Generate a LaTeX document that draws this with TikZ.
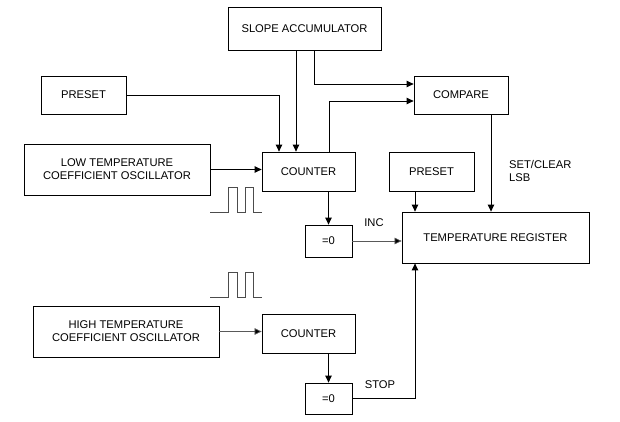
\documentclass[tikz,border=0pt]{standalone}
\usepackage{fontspec}
\setmainfont{Liberation Sans}
\usetikzlibrary{arrows.meta}
\begin{document}
\begin{tikzpicture}[x=1pt,y=-1pt,
  blk/.style={draw=black,line width=0.8pt,inner sep=0pt,align=center,
    font=\fontsize{11.2}{13}\selectfont},
  arr/.style={draw=black,line width=0.9pt,-{Triangle[length=7pt,width=6.5pt]}},
  thinarr/.style={draw=black!65,line width=0.7pt,-{Triangle[length=7pt,width=6.5pt,fill=black]}},
  lbl/.style={font=\fontsize{11.2}{13}\selectfont,inner sep=0pt},
  pulse/.style={draw=black!70,line width=0.8pt}]
\useasboundingbox (0,0) rectangle (620,422);
% blocks
\node[blk,minimum width=153pt,minimum height=43pt] (slope) at (304.5,28.5) {SLOPE ACCUMULATOR};
\node[blk,minimum width=85pt,minimum height=38pt] (preset1) at (83.5,95) {PRESET};
\node[blk,minimum width=94pt,minimum height=38pt] (compare) at (461,95) {COMPARE};
\node[blk,minimum width=186pt,minimum height=51pt] (lowosc) at (117,169.5) {LOW TEMPERATURE\\COEFFICIENT OSCILLATOR};
\node[blk,minimum width=93pt,minimum height=39pt] (counter1) at (308.5,171.5) {COUNTER};
\node[blk,minimum width=85pt,minimum height=39pt] (preset2) at (431.5,171.5) {PRESET};
\node[blk,minimum width=187pt,minimum height=51pt] (temp) at (495.5,237.5) {TEMPERATURE REGISTER};
\node[blk,minimum width=47pt,minimum height=32pt] (eq1) at (328.5,241) {=0};
\node[blk,minimum width=186pt,minimum height=51pt] (highosc) at (126,331.5) {HIGH TEMPERATURE\\COEFFICIENT OSCILLATOR};
\node[blk,minimum width=93pt,minimum height=39pt] (counter2) at (308.5,333.5) {COUNTER};
\node[blk,minimum width=47pt,minimum height=31pt] (eq2) at (328.5,398.5) {=0};
% labels
\node[lbl] (inc) at (374,223) {INC};
\node[lbl] (stop) at (380,385) {STOP};
\node[lbl,anchor=west,align=left] (setclr) at (509,170.5) {SET/CLEAR\\LSB};
% helper x positions
\coordinate (xa) at (279,0);
\coordinate (xb) at (296,0);
\coordinate (xc) at (314,0);
\coordinate (xd) at (329.5,0);
\coordinate (xe) at (491,0);
\coordinate (xf) at (415,0);
\coordinate (ya) at (0,84);
\coordinate (yb) at (0,101);
% connectors
\draw[arr] (preset1.east) -| (counter1.north -| xa);
\draw[arr] (slope.south -| xb) -- (counter1.north -| xb);
\draw[arr] (slope.south -| xc) |- (compare.west |- ya);
\draw[arr] (counter1.north -| xd) |- (compare.west |- yb);
\draw[arr] (lowosc.east) -- (lowosc.east -| counter1.west);
\draw[arr] (compare.south -| xe) -- (temp.north -| xe);
\draw[arr] (preset2.south -| xf) -- (temp.north -| xf);
\draw[arr] (counter1.south -| eq1.north) -- (eq1.north);
\draw[thinarr] (eq1.east) -- (eq1.east -| temp.west);
\draw[thinarr] (highosc.east) -- (highosc.east -| counter2.west);
\draw[arr] (counter2.south -| eq2.north) -- (eq2.north);
\draw[arr] (eq2.east) -| (temp.south -| xf);
% pulse waveforms
\draw[pulse] (210,212) -- (228,212) -- (228,187) -- (237,187) -- (237,212) -- (245,212) -- (245,187) -- (253,187) -- (253,212) -- (262,212);
\draw[pulse] (210,297) -- (228,297) -- (228,272) -- (237,272) -- (237,297) -- (245,297) -- (245,272) -- (253,272) -- (253,297) -- (262,297);
\end{tikzpicture}
\end{document}
